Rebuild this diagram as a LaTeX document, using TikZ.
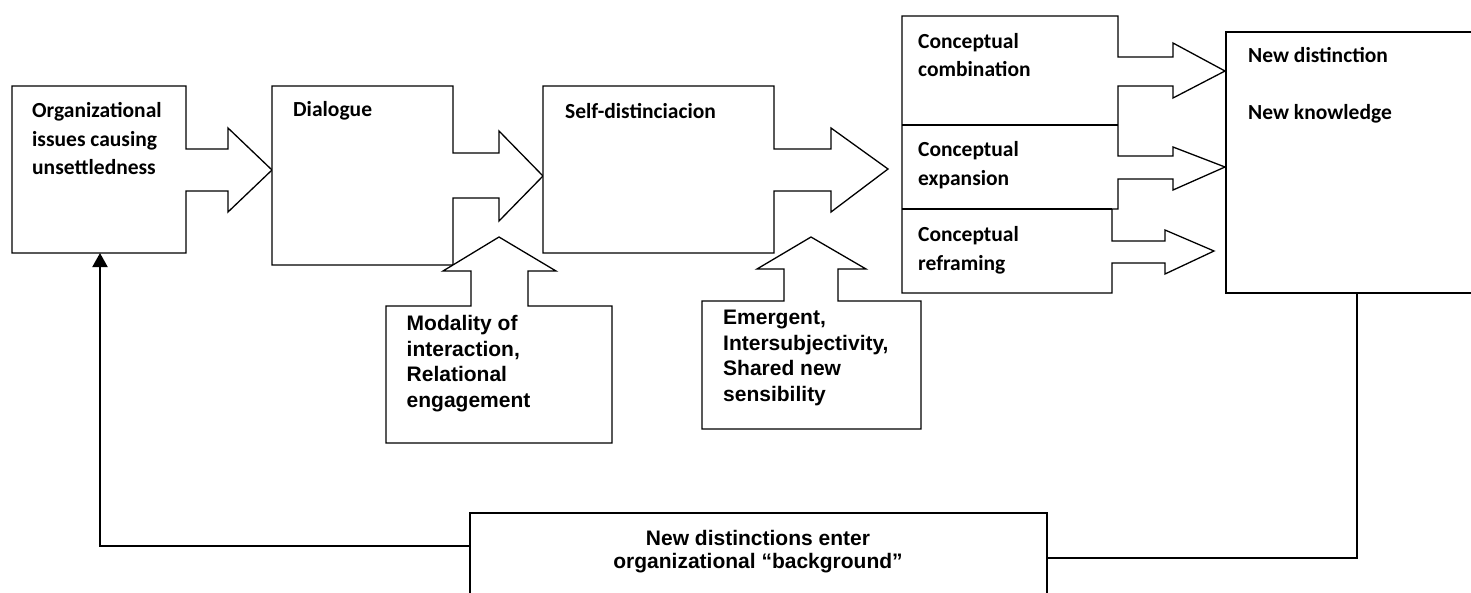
\documentclass[tikz,border=0pt]{standalone}
\usepackage{fontspec}
\setmainfont{Carlito}
\newfontfamily\arialfont{Liberation Sans}
\usetikzlibrary{arrows.meta,positioning}

\begin{document}
\begin{tikzpicture}[x=1pt, y=-1pt,
    outline/.style={draw, line width=1.3pt, fill=white},
    openline/.style={draw, line width=1.3pt},
    loopline/.style={draw, line width=2pt},
    boxtext/.style={anchor=north west, inner sep=0pt, align=left,
        font=\bfseries\fontsize{21.5}{28.5}\selectfont},
    calltext/.style={anchor=north west, inner sep=0pt, align=left,
        font=\arialfont\bfseries\fontsize{21}{25.6}\selectfont}]
\useasboundingbox (0,0) rectangle (1471,592);

\draw[outline] (186,149) -- (186,86) -- (12,86) -- (12,253) -- (186,253) -- (186,191)
    -- (228,191) -- (228,212) -- (272,170) -- (228,128) -- (228,149) -- cycle;
\draw[outline] (453,153) -- (453,86) -- (272,86) -- (272,265) -- (453,265) -- (453,198)
    -- (499,198) -- (499,221) -- (543,176) -- (499,131) -- (499,153) -- cycle;
\draw[outline] (774,149) -- (774,86) -- (543,86) -- (543,253) -- (774,253) -- (774,191)
    -- (831,191) -- (831,212) -- (888,169) -- (831,128) -- (831,149) -- cycle;

\draw[outline] (471,306) -- (386,306) -- (386,443) -- (612,443) -- (612,306) -- (528,306)
    -- (528,271) -- (556,271) -- (499,237) -- (443,271) -- (471,271) -- cycle;
\draw[outline] (784,301) -- (702,301) -- (702,429) -- (921,429) -- (921,301) -- (838,301)
    -- (838,269) -- (866,269) -- (811,237) -- (757,269) -- (784,269) -- cycle;

\draw[outline] (1118,57) -- (1118,16) -- (902,16) -- (902,293) -- (1112,293) -- (1112,263)
    -- (1165,263) -- (1165,274) -- (1214,251) -- (1165,230) -- (1165,241) -- (1112,241)
    -- (1112,209) -- (1118,209) -- (1118,179) -- (1173,179) -- (1173,190) -- (1225,167)
    -- (1173,147) -- (1173,156) -- (1118,156) -- (1118,86) -- (1173,86) -- (1173,98)
    -- (1225,71) -- (1173,43) -- (1173,57) -- cycle;
\draw[openline] (902,125) -- (1118,125) (902,209) -- (1112,209);

\draw[openline] (1480,32) -- (1226,32) -- (1226,293) -- (1480,293);
\draw[openline] (470,600) -- (470,513) -- (1047,513) -- (1047,600);

\node (org) [boxtext] at (32,102.5) {Organizational\\issues causing\\unsettledness};
\node (dia) [boxtext] at (293,101.5) {Dialogue};
\node (self) [boxtext] at (565,103) {Self-distinciacion};
\foreach \n/\y/\t in {comb/33/combination, expa/141.5/expansion, refr/226.5/reframing}
    \node (\n) [boxtext] at (918,\y) {Conceptual\\\t};
\node (newd) [boxtext] at (1248,47) {New distinction\\[28.5pt]New knowledge};

\node (mod) [calltext] at (406.5,315) {Modality of\\interaction,\\Relational\\engagement};
\node (emg) [calltext] at (723,310) {Emergent,\\Intersubjectivity,\\Shared new\\sensibility};
\node (bgr) [calltext, anchor=north, align=center, font=\arialfont\bfseries\fontsize{21}{23}\selectfont]
    at (758,530) {New distinctions enter\\organizational “background”};

\coordinate (newdfoot) at (1357,293);
\coordinate (bgreast) at (1047,558);
\coordinate (bgrwest) at (470,546);
\coordinate (orgfoot) at (100,253);
\draw[loopline] (newdfoot) |- (bgreast);
\draw[loopline, -{Triangle[width=15pt, length=14pt]}] (bgrwest) -| (orgfoot);

\end{tikzpicture}
\end{document}
